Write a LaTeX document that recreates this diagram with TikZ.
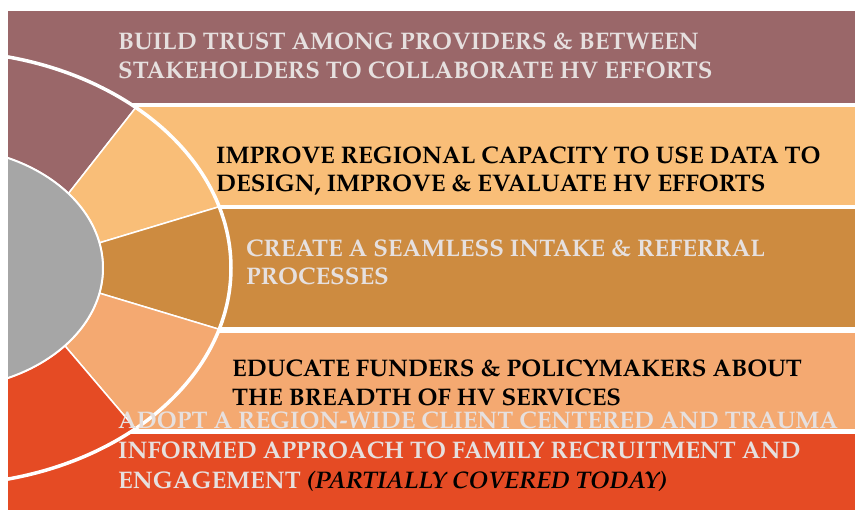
\documentclass[tikz,border=0pt]{standalone}
\usepackage[T1]{fontenc}
\usepackage{mathpazo}
\definecolor{mauve}{HTML}{9A6769}
\definecolor{apricot}{HTML}{F9BE78}
\definecolor{ochre}{HTML}{CD8B40}
\definecolor{salmon}{HTML}{F4A971}
\definecolor{vermilion}{HTML}{E54B24}
\definecolor{hubgrey}{HTML}{A6A6A6}
\definecolor{paletext}{HTML}{E6E0DF}
\tikzset{
  wedge/.style={draw=white, line width=1.5pt},
  goal/.style={inner sep=0pt, anchor=north west, align=left, font=\fontsize{24}{29}\selectfont\bfseries},
  palegoal/.style={goal, text=paletext},
  darkgoal/.style={goal, text=black}
}
\begin{document}
\begin{tikzpicture}[x=1pt, y=-1pt, line join=round, line cap=round]
  \useasboundingbox (0,0) rectangle (855,510);
  % Các dải màu
  \fill[mauve] (8,11) rectangle (855,103);
  \fill[apricot] (8,107) rectangle (855,205);
  \fill[ochre] (8,209) rectangle (855,327);
  \fill[salmon] (8,333) rectangle (855,429);
  \fill[vermilion] (8,434) rectangle (855,510);
  
  \begin{scope}
    \clip (8,0) rectangle (855,510);
    % Tâm chung của hai hình elip
    \coordinate (O) at (-60,268);
    
    % Các mảnh của vành
    \filldraw[wedge, fill=mauve] plot[domain=-100:-47.7, samples=40] ({-60+291*cos(\x)},{268+217*sin(\x)})
      -- plot[domain=-38:-100, samples=40] ({-60+163*cos(\x)},{268+121*sin(\x)}) -- cycle;
    \filldraw[wedge, fill=apricot] plot[domain=-47.7:-16.4, samples=30] ({-60+291*cos(\x)},{268+217*sin(\x)})
      -- plot[domain=-12:-38, samples=30] ({-60+163*cos(\x)},{268+121*sin(\x)}) -- cycle;
    \filldraw[wedge, fill=ochre] plot[domain=-16.4:16.4, samples=30] ({-60+291*cos(\x)},{268+217*sin(\x)})
      -- plot[domain=12:-12, samples=30] ({-60+163*cos(\x)},{268+121*sin(\x)}) -- cycle;
    \filldraw[wedge, fill=salmon] plot[domain=16.4:47.8, samples=30] ({-60+291*cos(\x)},{268+217*sin(\x)})
      -- plot[domain=40:12, samples=30] ({-60+163*cos(\x)},{268+121*sin(\x)}) -- cycle;
    \filldraw[wedge, fill=vermilion] plot[domain=47.8:100, samples=40] ({-60+291*cos(\x)},{268+217*sin(\x)})
      -- plot[domain=100:40, samples=40] ({-60+163*cos(\x)},{268+121*sin(\x)}) -- cycle;
    
    % Hình elip xám ở giữa và viền ngoài
    \filldraw[fill=hubgrey, draw=white, line width=2pt] (O) ellipse [x radius=163, y radius=121];
    \draw[white, line width=3.5pt] (O) ellipse [x radius=291, y radius=217];
  \end{scope}
  
  % Các dòng chữ
  \node[palegoal] (trust) at (118,33) {BUILD TRUST AMONG PROVIDERS \& BETWEEN\\STAKEHOLDERS TO COLLABORATE HV EFFORTS};
  \node[darkgoal, font=\fontsize{24}{28}\selectfont\bfseries] (data) at (216,147) {IMPROVE REGIONAL CAPACITY TO USE DATA TO\\DESIGN, IMPROVE \& EVALUATE HV EFFORTS};
  \node[palegoal, font=\fontsize{24}{28}\selectfont\bfseries] (intake) at (246,240) {CREATE A SEAMLESS INTAKE \& REFERRAL\\PROCESSES};
  \node[darkgoal] (funders) at (232,360) {EDUCATE FUNDERS \& POLICYMAKERS ABOUT\\THE BREADTH OF HV SERVICES};
  \node[palegoal, font=\fontsize{24}{30}\selectfont\bfseries] (adopt) at (118,412) {ADOPT A REGION-WIDE CLIENT CENTERED AND TRAUMA\\INFORMED APPROACH TO FAMILY RECRUITMENT AND\\ENGAGEMENT \textcolor{black}{\itshape (PARTIALLY COVERED TODAY)}};
\end{tikzpicture}
\end{document}
